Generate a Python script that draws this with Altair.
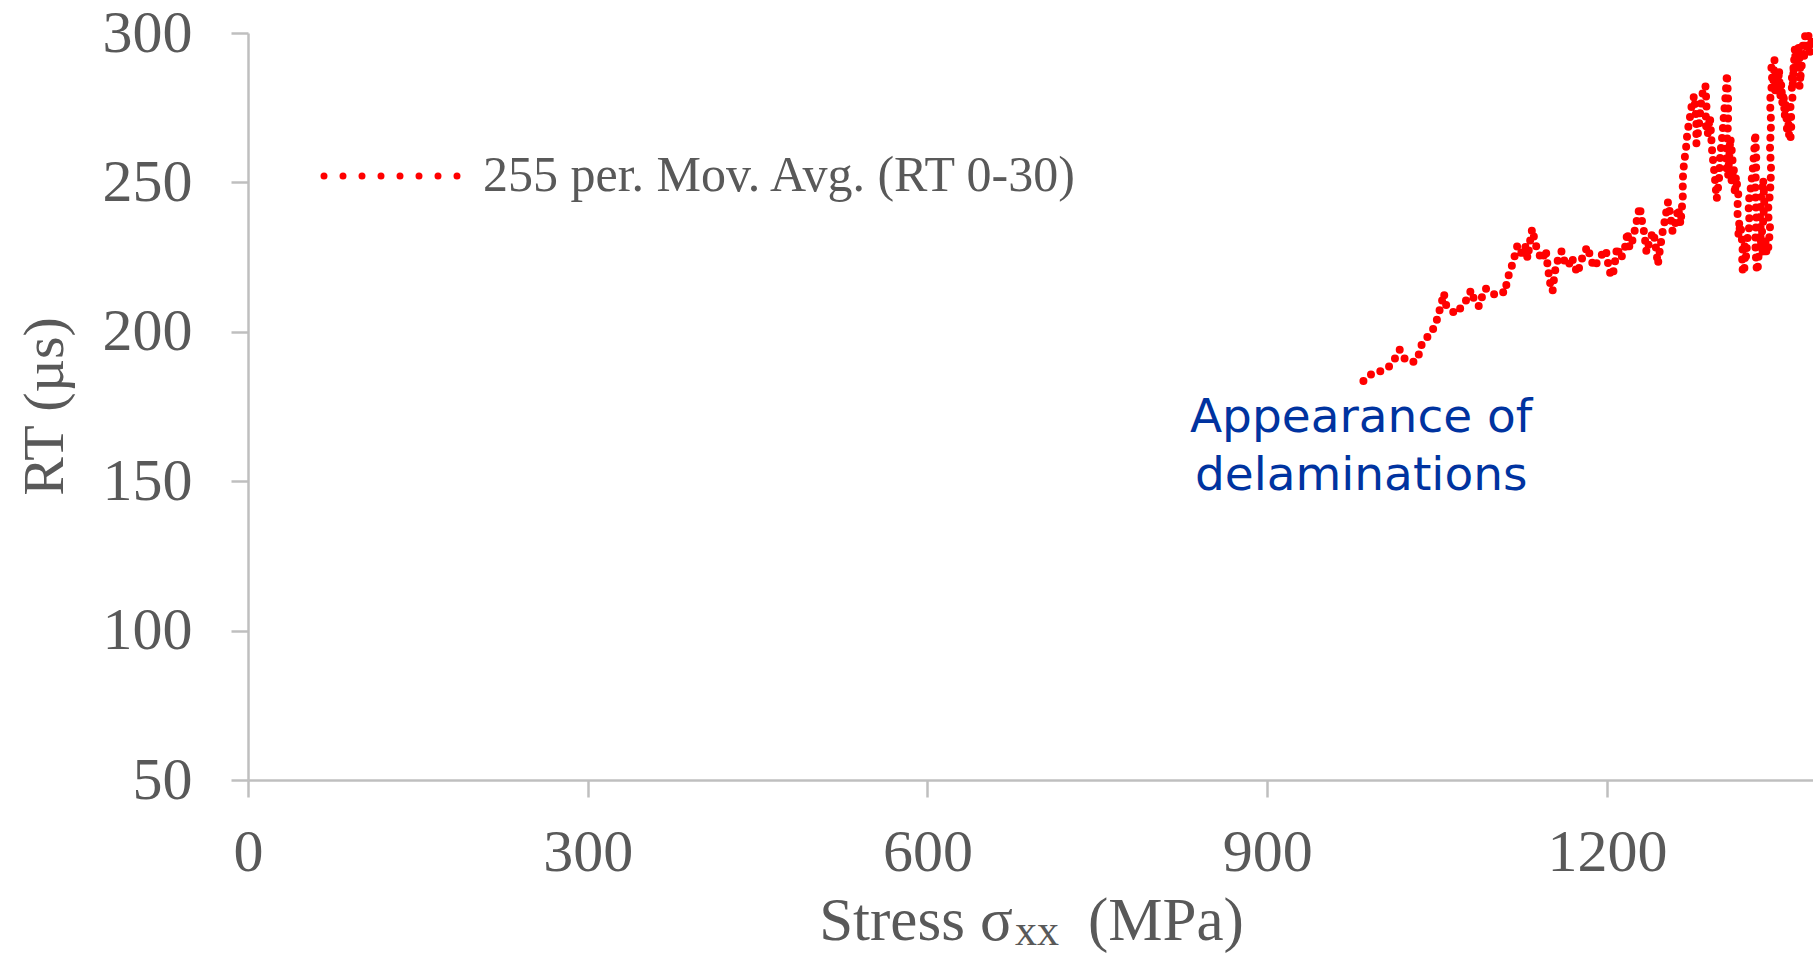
import altair as alt
import pandas as pd

# 255-period moving average of RT (0-30) against stress, in acquisition order
stress = [
    985, 989, 993, 998, 1004, 1008, 1012, 1017, 1020, 1025, 1031, 1034, 1037, 1041,
    1045, 1049, 1051, 1053, 1056, 1058, 1062, 1066, 1070, 1073, 1077, 1080, 1083,
    1087, 1090, 1093, 1097, 1101, 1106, 1110, 1112, 1116, 1119, 1121, 1125, 1128,
    1130, 1132, 1134, 1136, 1138, 1140, 1143, 1146, 1148, 1150, 1152, 1154, 1157,
    1160, 1163, 1166, 1169, 1172, 1174, 1177, 1180, 1183, 1186, 1189, 1193, 1196,
    1199, 1201, 1203, 1205, 1207, 1209, 1212, 1215, 1217, 1218, 1220, 1223, 1226,
    1229, 1231, 1233, 1235, 1238, 1241, 1243, 1245, 1247, 1249, 1251, 1254, 1256,
    1258, 1261, 1263, 1265, 1267, 1267, 1268, 1270, 1271, 1273, 1275, 1277, 1279,
    1279, 1281, 1283, 1285, 1287, 1288, 1287, 1289, 1291, 1292, 1293, 1295, 1297,
    1299, 1300, 1302, 1303, 1305, 1306, 1307, 1307, 1306, 1305, 1307, 1309, 1311,
    1310, 1312, 1313, 1314, 1316, 1315, 1317, 1316, 1318, 1319, 1320, 1319, 1321,
    1322, 1321, 1323, 1324, 1326, 1325, 1327, 1329, 1330, 1331, 1332, 1331, 1332,
    1331, 1332, 1333, 1334, 1336, 1335, 1337, 1338, 1339, 1338, 1336, 1338, 1340,
    1341, 1343, 1344, 1342, 1344, 1345, 1344, 1345, 1344, 1346, 1345, 1348, 1347,
    1349, 1350, 1351, 1352, 1353, 1354, 1355, 1356, 1357, 1358, 1359, 1360, 1361,
    1362, 1363, 1362, 1364, 1363, 1365, 1364, 1366, 1367, 1368, 1369, 1370, 1371,
    1370, 1372, 1373, 1374, 1375, 1376, 1378, 1379, 1381, 1383,
]
rt = [
    183.5, 185, 186, 186.5, 187.5, 188.5, 190.5, 194, 191.5, 190, 190, 192.5, 196.5, 198,
    200, 202.5, 206, 208, 213, 209, 207.5, 206, 207.5, 209.5, 211, 214, 210.5,
    208.5, 212, 214.5, 213, 212.5, 213.5, 213, 217.5, 222, 226, 229, 226, 228.5,
    224.5, 230, 234.5, 231, 228, 226, 224, 227.5, 221, 216, 213.5, 220, 224.5,
    227, 223, 222, 225, 221.5, 219.5, 223.5, 226.5, 228.5, 224, 221.5, 224.5, 226,
    227.5, 223, 219.5, 218.5, 223, 228.5, 224.5, 226.5, 230, 233.5, 228, 231, 236.5,
    242, 237, 233, 226.5, 231, 233.5, 229, 222.5, 228, 233, 237, 243.5, 239,
    233.5, 237, 241.5, 236, 245, 251, 256, 262, 266.5, 271, 276, 279, 271,
    263, 268, 276, 281, 282.5, 276, 270, 266, 272, 266, 260, 253, 244.5,
    251, 259, 266, 271, 280, 286.5, 278, 270, 263, 256, 252, 265, 258,
    250, 255, 246, 252, 246, 240, 237, 232, 236, 232, 226.5, 222, 219.5,
    224, 230, 225, 231, 236, 243, 248, 255, 260, 266.5, 257, 248, 238,
    230, 222, 220, 226, 233, 240, 247, 251, 244, 237, 230, 226, 231,
    226, 229, 235, 240, 246, 254, 262, 270, 277, 284, 290, 291, 284,
    280, 286, 281, 288, 278, 283, 276, 280, 272, 277, 268, 272, 265,
    264, 270, 276, 277, 284, 289, 282, 295, 288, 290, 296, 292.5, 286,
    282, 289, 296, 291, 299, 294, 299, 293, 298, 300,
]

x_ticks = [0, 300, 600, 900, 1200]
y_ticks = [50, 100, 150, 200, 250, 300]

series_label = "255 per. Mov. Avg. (RT 0-30)"
note_lines = "Appearance of\ndelaminations"

df = pd.DataFrame({"stress": stress, "rt": rt, "seq": list(range(len(stress)))})
one = pd.DataFrame({"k": [0]})

GREY_TEXT = "#595959"
GREY_AXIS = "#BFBFBF"
RED = "#FF0000"
SERIF = "Liberation Serif"

x_scale = alt.Scale(domain=[0, 1382], nice=False, zero=False)
y_scale = alt.Scale(domain=[50, 300], nice=False, zero=False)

# round-dot line: zero-length dashes with round caps
line = alt.Chart(df).mark_line(
    color=RED, strokeWidth=8, strokeCap="round", strokeJoin="round", strokeDash=[0, 10]
).encode(
    x=alt.X("stress:Q", scale=x_scale,
            axis=alt.Axis(values=x_ticks, format="d", title=None, labelPadding=26)),
    y=alt.Y("rt:Q", scale=y_scale,
            axis=alt.Axis(values=y_ticks, format="d", title="RT (µs)", labelPadding=39,
                          titleX=-203, titleY=373, titleAngle=270,
                          titleAlign="center", titleBaseline="middle")),
    order="seq:Q",
)

note = alt.Chart(one).mark_text(
    text=note_lines, lineBreak="\n", align="center", baseline="middle",
    font="DejaVu Sans", fontSize=47, lineHeight=58, color="#0033A0",
).encode(x=alt.datum(983), y=alt.datum(171))

legend_dots = alt.Chart(one).mark_rule(
    color=RED, strokeWidth=7, strokeCap="round", strokeDash=[0, 19]
).encode(x=alt.value(76), x2=alt.value(210), y=alt.value(143))

legend_text = alt.Chart(one).mark_text(
    text=series_label, align="left", baseline="middle",
    font=SERIF, fontSize=50, color=GREY_TEXT,
).encode(x=alt.value(235), y=alt.value(143))

# x-axis title with a lowered "xx" subscript
title_main = alt.Chart(one).mark_text(
    text="Stress σ", align="right", baseline="alphabetic",
    font=SERIF, fontSize=61, color=GREY_TEXT,
).encode(x=alt.value(765), y=alt.value(907))
title_sub = alt.Chart(one).mark_text(
    text="xx", align="left", baseline="alphabetic",
    font=SERIF, fontSize=44, color=GREY_TEXT,
).encode(x=alt.value(767), y=alt.value(912))
title_unit = alt.Chart(one).mark_text(
    text="(MPa)", align="left", baseline="alphabetic",
    font=SERIF, fontSize=61, color=GREY_TEXT,
).encode(x=alt.value(840), y=alt.value(907))

chart = alt.layer(
    line, note, legend_dots, legend_text, title_main, title_sub, title_unit
).properties(
    width=1565, height=747,
    autosize=alt.AutoSizeParams(type="none"),
    padding={"left": 248, "top": 33, "right": 0, "bottom": 176},
    background="white",
).configure_view(stroke=None).configure_axis(
    grid=False,
    domainColor=GREY_AXIS, domainWidth=2.5,
    tickColor=GREY_AXIS, tickWidth=2.5, tickSize=17,
    labelFont=SERIF, labelFontSize=60, labelColor=GREY_TEXT,
    titleFont=SERIF, titleFontSize=58, titleColor=GREY_TEXT, titleFontWeight="normal",
    labelFlush=False, labelOverlap=False,
)

chart.save("out.html", embed_options={"renderer": "svg", "actions": False})
